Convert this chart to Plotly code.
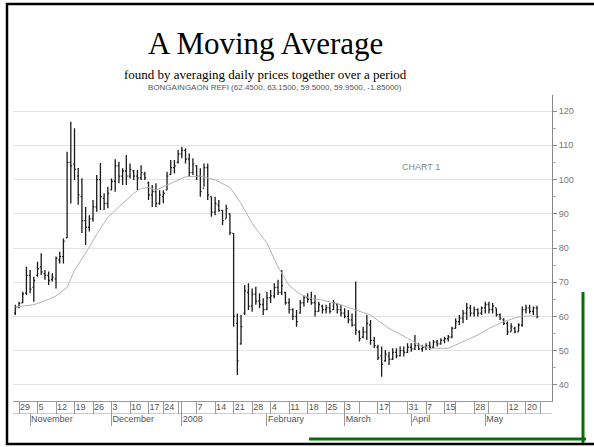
import pandas as pd
import plotly.graph_objects as go

# trading days (NSE), weekends + market holidays skipped
holidays = [
    "2007-12-21", "2007-12-25", "2008-03-06", "2008-03-20", "2008-03-21",
    "2008-04-14", "2008-04-18", "2008-05-01", "2008-05-19",
]
days = [d for d in pd.bdate_range("2007-10-26", "2008-05-23") if d.strftime("%Y-%m-%d") not in holidays]

high = [
    63.4, 64.3, 67.2, 74.5, 73.6, 71.6, 76.0, 78.5, 73.6, 73.1,
    72.6, 77.5, 78.9, 82.8, 108.1, 116.9, 115.0, 103.4, 100.4, 92.0,
    89.6, 94.0, 101.3, 104.8, 96.0, 97.9, 100.3, 105.9, 105.2, 103.3,
    107.2, 104.7, 102.8, 102.8, 104.2, 102.3, 99.4, 98.4, 98.9, 96.9,
    96.9, 102.3, 105.7, 105.7, 108.6, 109.6, 109.1, 107.6, 106.2, 104.2,
    103.3, 104.7, 104.7, 95.0, 95.0, 94.0, 91.1, 92.6, 90.1, 84.3,
    60.9, 60.4, 69.2, 69.7, 68.2, 68.7, 66.8, 65.3, 67.2, 67.7,
    69.7, 70.7, 73.6, 67.2, 65.3, 62.4, 61.9, 64.8, 66.3, 66.8,
    67.2, 66.3, 64.3, 63.4, 63.4, 63.9, 64.8, 63.9, 63.4, 62.4,
    61.9, 60.9, 70.2, 56.0, 57.0, 60.4, 59.0, 54.0, 51.7, 51.2,
    50.2, 49.7, 50.7, 50.7, 51.2, 51.2, 52.2, 52.2, 54.6, 52.2,
    51.7, 52.2, 52.7, 53.1, 53.1, 53.6, 54.1, 54.6, 57.0, 59.5,
    60.4, 61.9, 63.9, 63.4, 62.9, 62.4, 62.9, 64.3, 64.3, 63.9,
    62.4, 60.9, 59.5, 58.5, 58.0, 57.0, 58.0, 62.9, 63.4, 63.4,
    62.9, 63.15,
]
low = [
    60.4, 62.4, 63.9, 66.3, 66.8, 64.3, 71.6, 72.1, 70.7, 69.2,
    70.2, 68.2, 75.5, 75.5, 82.9, 93.0, 99.9, 92.6, 84.4, 80.9,
    84.8, 87.7, 90.6, 91.1, 91.1, 91.6, 96.9, 96.4, 98.9, 98.4,
    98.4, 100.3, 99.9, 96.9, 99.9, 99.9, 94.0, 92.0, 92.0, 92.6,
    93.1, 96.9, 101.3, 101.8, 104.7, 106.2, 104.7, 100.8, 101.3, 99.9,
    95.0, 97.9, 94.0, 89.1, 89.6, 90.6, 86.7, 88.7, 83.8, 57.0,
    42.9, 51.7, 60.4, 61.9, 61.4, 63.4, 62.4, 60.4, 61.9, 63.9,
    65.3, 66.3, 66.3, 63.4, 60.9, 59.0, 57.0, 60.9, 62.9, 64.0,
    63.4, 60.0, 61.4, 60.9, 60.9, 60.9, 61.9, 60.9, 60.0, 59.5,
    58.0, 57.0, 54.6, 52.7, 53.6, 53.1, 51.7, 50.8, 47.3, 42.4,
    46.8, 45.8, 47.3, 47.8, 48.3, 48.3, 49.3, 49.7, 50.2, 50.2,
    49.7, 50.2, 50.2, 50.7, 51.2, 51.7, 52.2, 52.7, 53.6, 56.5,
    57.5, 58.0, 59.0, 60.0, 60.0, 60.0, 60.4, 60.9, 60.9, 60.9,
    60.0, 59.0, 57.5, 54.6, 55.6, 55.1, 55.6, 57.0, 60.9, 60.9,
    60.4, 59.5,
]
open_ = [
    61.0, 62.8, 64.0, 66.8, 72.0, 68.5, 72.0, 74.5, 72.5, 72.0,
    70.8, 71.0, 76.5, 77.5, 83.0, 105.0, 104.5, 101.0, 95.0, 88.0,
    86.0, 88.5, 92.0, 100.0, 94.5, 93.0, 97.0, 99.5, 104.0, 101.0,
    102.5, 101.0, 102.5, 101.0, 100.5, 101.5, 99.0, 95.5, 96.5, 93.0,
    95.0, 97.0, 101.5, 103.5, 105.0, 107.5, 108.5, 106.0, 102.0, 104.0,
    101.0, 97.5, 103.5, 95.0, 90.5, 92.5, 91.0, 88.5, 90.0, 84.3,
    58.0, 52.0, 61.0, 67.0, 63.0, 66.5, 64.5, 63.5, 62.0, 65.5,
    66.0, 68.5, 67.0, 67.0, 64.0, 62.0, 60.0, 61.0, 64.0, 65.5,
    65.0, 64.0, 61.5, 63.0, 62.0, 62.5, 62.0, 63.5, 62.0, 61.0,
    60.0, 59.0, 57.5, 55.5, 54.0, 55.5, 57.5, 53.0, 51.0, 48.5,
    47.0, 48.5, 47.5, 49.5, 48.5, 50.0, 49.5, 51.0, 50.5, 51.5,
    50.5, 51.0, 51.5, 51.0, 52.5, 52.0, 53.0, 53.5, 54.0, 56.5,
    58.5, 59.5, 61.0, 62.5, 61.0, 62.0, 61.0, 62.5, 63.5, 62.0,
    62.5, 60.5, 59.0, 58.0, 55.5, 56.5, 55.5, 57.5, 62.0, 62.5,
    61.5, 62.45,
]
close = [
    62.8, 63.8, 66.5, 72.0, 68.0, 70.5, 74.0, 73.0, 72.0, 70.5,
    71.5, 77.0, 77.5, 82.0, 105.0, 104.0, 103.0, 95.5, 88.0, 86.0,
    88.5, 92.0, 100.0, 95.0, 93.0, 96.0, 99.5, 104.0, 101.0, 102.5,
    101.0, 103.0, 101.0, 100.5, 102.0, 100.5, 95.5, 96.5, 93.0, 95.5,
    96.0, 101.0, 103.5, 104.0, 107.5, 108.5, 106.0, 102.0, 104.5, 101.0,
    96.5, 103.5, 95.5, 90.5, 93.0, 91.0, 88.0, 91.5, 84.5, 60.0,
    47.0, 57.0, 67.5, 63.0, 66.5, 64.5, 63.5, 62.0, 65.5, 66.0,
    68.5, 67.0, 69.0, 64.0, 62.0, 60.0, 58.5, 64.0, 65.5, 65.0,
    64.0, 61.5, 63.5, 62.0, 62.5, 61.5, 64.0, 62.0, 61.0, 60.0,
    59.0, 57.5, 56.0, 53.5, 55.5, 58.0, 53.0, 51.5, 48.0, 46.0,
    49.0, 47.5, 49.5, 48.5, 50.0, 49.5, 51.0, 50.5, 51.5, 50.5,
    51.0, 51.5, 51.0, 52.5, 52.0, 53.0, 53.5, 54.0, 56.5, 58.5,
    59.5, 61.0, 62.5, 61.0, 62.0, 61.0, 62.5, 63.5, 62.0, 63.0,
    60.5, 59.5, 58.0, 55.5, 57.0, 55.5, 57.5, 62.0, 62.5, 61.5,
    62.5, 59.95,
]

# moving average, read at sample dates
ma_dates = [
    "2007-10-26", "2007-11-02", "2007-11-08", "2007-11-12", "2007-11-15",
    "2007-11-19", "2007-11-22", "2007-11-27", "2007-11-30", "2007-12-06",
    "2007-12-11", "2007-12-13", "2007-12-17", "2007-12-19", "2007-12-26",
    "2007-12-31", "2008-01-02", "2008-01-08", "2008-01-14", "2008-01-18",
    "2008-01-23", "2008-01-28", "2008-02-01", "2008-02-06", "2008-02-11",
    "2008-02-14", "2008-02-19", "2008-02-22", "2008-02-29", "2008-03-07",
    "2008-03-13", "2008-03-24", "2008-04-01", "2008-04-03", "2008-04-08",
    "2008-04-16", "2008-04-23", "2008-04-29", "2008-05-05", "2008-05-09",
    "2008-05-14", "2008-05-16", "2008-05-23",
]
ma_values = [
    62.8, 63.4, 65.0, 66.0, 68.5,
    73.5, 78.5, 84.0, 89.0, 93.0,
    96.0, 97.4, 97.7, 96.9, 98.4,
    99.9, 100.8, 101.0, 99.9, 97.7,
    93.0, 87.2, 81.4, 74.5, 69.0,
    66.5, 65.2, 64.8, 63.4, 61.9,
    60.4, 56.5, 53.1, 51.7, 50.7,
    50.7, 52.7, 54.6, 56.5, 58.5,
    59.5, 60.1, 60.1,
]

week_ticks = [
    "2007-10-29", "2007-11-05", "2007-11-12", "2007-11-19", "2007-11-26",
    "2007-12-03", "2007-12-10", "2007-12-17", "2007-12-24", "2007-12-31",
    "2008-01-01", "2008-01-07", "2008-01-14", "2008-01-21", "2008-01-28",
    "2008-02-04", "2008-02-11", "2008-02-18", "2008-02-25", "2008-03-03",
    "2008-03-10", "2008-03-17", "2008-03-24", "2008-03-31", "2008-04-07",
    "2008-04-15", "2008-04-21", "2008-04-28", "2008-05-05", "2008-05-12",
    "2008-05-20", "2008-05-26",
]
week_labels = [
    "29", "5", "12", "19", "26", "3", "10", "17", "24", "", "",
    "7", "14", "21", "28", "4", "11", "18", "25", "3", "", "17",
    "", "31", "7", "15", "", "28", "", "12", "20", "",
]
month_ticks = ["2007-11-01", "2007-12-03", "2008-01-01", "2008-02-01",
               "2008-03-03", "2008-04-01", "2008-05-02"]
month_labels = ["November", "December", "2008", "February", "March", "April", "May"]

W, H = 594, 447
px = lambda v: v / W
py = lambda v: 1 - v / H

breaks = [dict(bounds=["sat", "mon"]), dict(values=holidays)]
x_range = ["2007-10-25 09:00", "2008-05-29 01:00"]
axis_font = dict(family="Liberation Sans, Arial", size=9, color="#555555")

fig = go.Figure()
fig.add_trace(go.Ohlc(
    x=days, open=open_, high=high, low=low, close=close,
    increasing=dict(line=dict(color="#1a1a1a", width=1.3)),
    decreasing=dict(line=dict(color="#1a1a1a", width=1.3)),
    tickwidth=0.35, xaxis="x", yaxis="y", hoverinfo="skip",
))
fig.add_trace(go.Scatter(
    x=ma_dates, y=ma_values, mode="lines",
    line=dict(color="#b4b4b4", width=1), xaxis="x2", yaxis="y",
))

fig.update_layout(
    width=W, height=H,
    margin=dict(l=0, r=0, t=0, b=0),
    paper_bgcolor="white", plot_bgcolor="white",
    showlegend=False,
    xaxis=dict(
        type="date", domain=[px(13), px(552)], anchor="y",
        range=x_range, rangebreaks=breaks,
        rangeslider=dict(visible=False),
        tickvals=week_ticks, ticktext=week_labels, tickangle=0,
        ticks="outside", ticklen=12, tickcolor="#999999", tickwidth=1,
        ticklabelposition="outside right", ticklabelstandoff=-3,
        showline=True, linecolor="#999999", linewidth=1,
        showgrid=False, zeroline=False, tickfont=axis_font,
    ),
    xaxis2=dict(
        type="date", domain=[px(13), px(552)], anchor="free", position=py(413),
        overlaying="x", matches="x", side="bottom",
        range=x_range, rangebreaks=breaks,
        tickvals=month_ticks, ticktext=month_labels, tickangle=0,
        ticks="outside", ticklen=12, tickcolor="#999999", tickwidth=1,
        ticklabelposition="outside right", ticklabelstandoff=-3,
        showline=True, linecolor="#cccccc", linewidth=1,
        showgrid=False, zeroline=False, tickfont=axis_font,
    ),
    yaxis=dict(
        domain=[py(401), py(95)], side="right", anchor="x",
        range=[35.3, 124.7], tick0=0, dtick=10,
        ticks="outside", ticklen=4, tickcolor="#888888",
        minor=dict(ticks="outside", ticklen=3, dtick=5, tickcolor="#aaaaaa", showgrid=False),
        showline=True, linecolor="#888888", linewidth=1,
        showgrid=True, gridcolor="#e4e4e4", gridwidth=1,
        zeroline=False, tickfont=dict(family="Liberation Sans, Arial", size=9, color="#777777"),
    ),
    annotations=[
        dict(text="A Moving Average", x=px(265), y=py(43), xref="paper", yref="paper",
             showarrow=False, xanchor="center", yanchor="middle",
             font=dict(family="Liberation Serif, Times New Roman", size=31, color="black")),
        dict(text="found by averaging daily prices together over a period", x=px(265), y=py(75),
             xref="paper", yref="paper", showarrow=False, xanchor="center", yanchor="middle",
             font=dict(family="Liberation Serif, Times New Roman", size=13, color="black")),
        dict(text="BONGAINGAON REFI (62.4500, 63.1500, 59.5000, 59.9500, -1.85000)",
             x=px(275), y=py(87), xref="paper", yref="paper", showarrow=False,
             xanchor="center", yanchor="middle",
             font=dict(family="Liberation Sans, Arial", size=8, color="#555555")),
        dict(text="CHART 1", x=px(421), y=py(167), xref="paper", yref="paper", showarrow=False,
             xanchor="center", yanchor="middle",
             font=dict(family="Liberation Sans, Arial", size=9, color="#888888")),
    ],
    shapes=[
        dict(type="rect", xref="paper", yref="paper", x0=px(7), x1=px(610), y0=py(444), y1=py(4),
             line=dict(color="black", width=2.5), fillcolor="rgba(0,0,0,0)"),
        dict(type="line", xref="paper", yref="paper", x0=px(583), x1=px(583), y0=py(292), y1=py(443),
             line=dict(color="#0b6a0b", width=3)),
        dict(type="line", xref="paper", yref="paper", x0=px(309), x1=px(586), y0=py(439), y1=py(439),
             line=dict(color="#0b6a0b", width=3)),
    ],
)

# the page body has an 8px default margin; drop it so the figure fills the window
fig.write_html(
    "out.html",
    config={"displayModeBar": False},
    post_script="document.body.style.margin='0';document.body.style.overflow='hidden';",
)
